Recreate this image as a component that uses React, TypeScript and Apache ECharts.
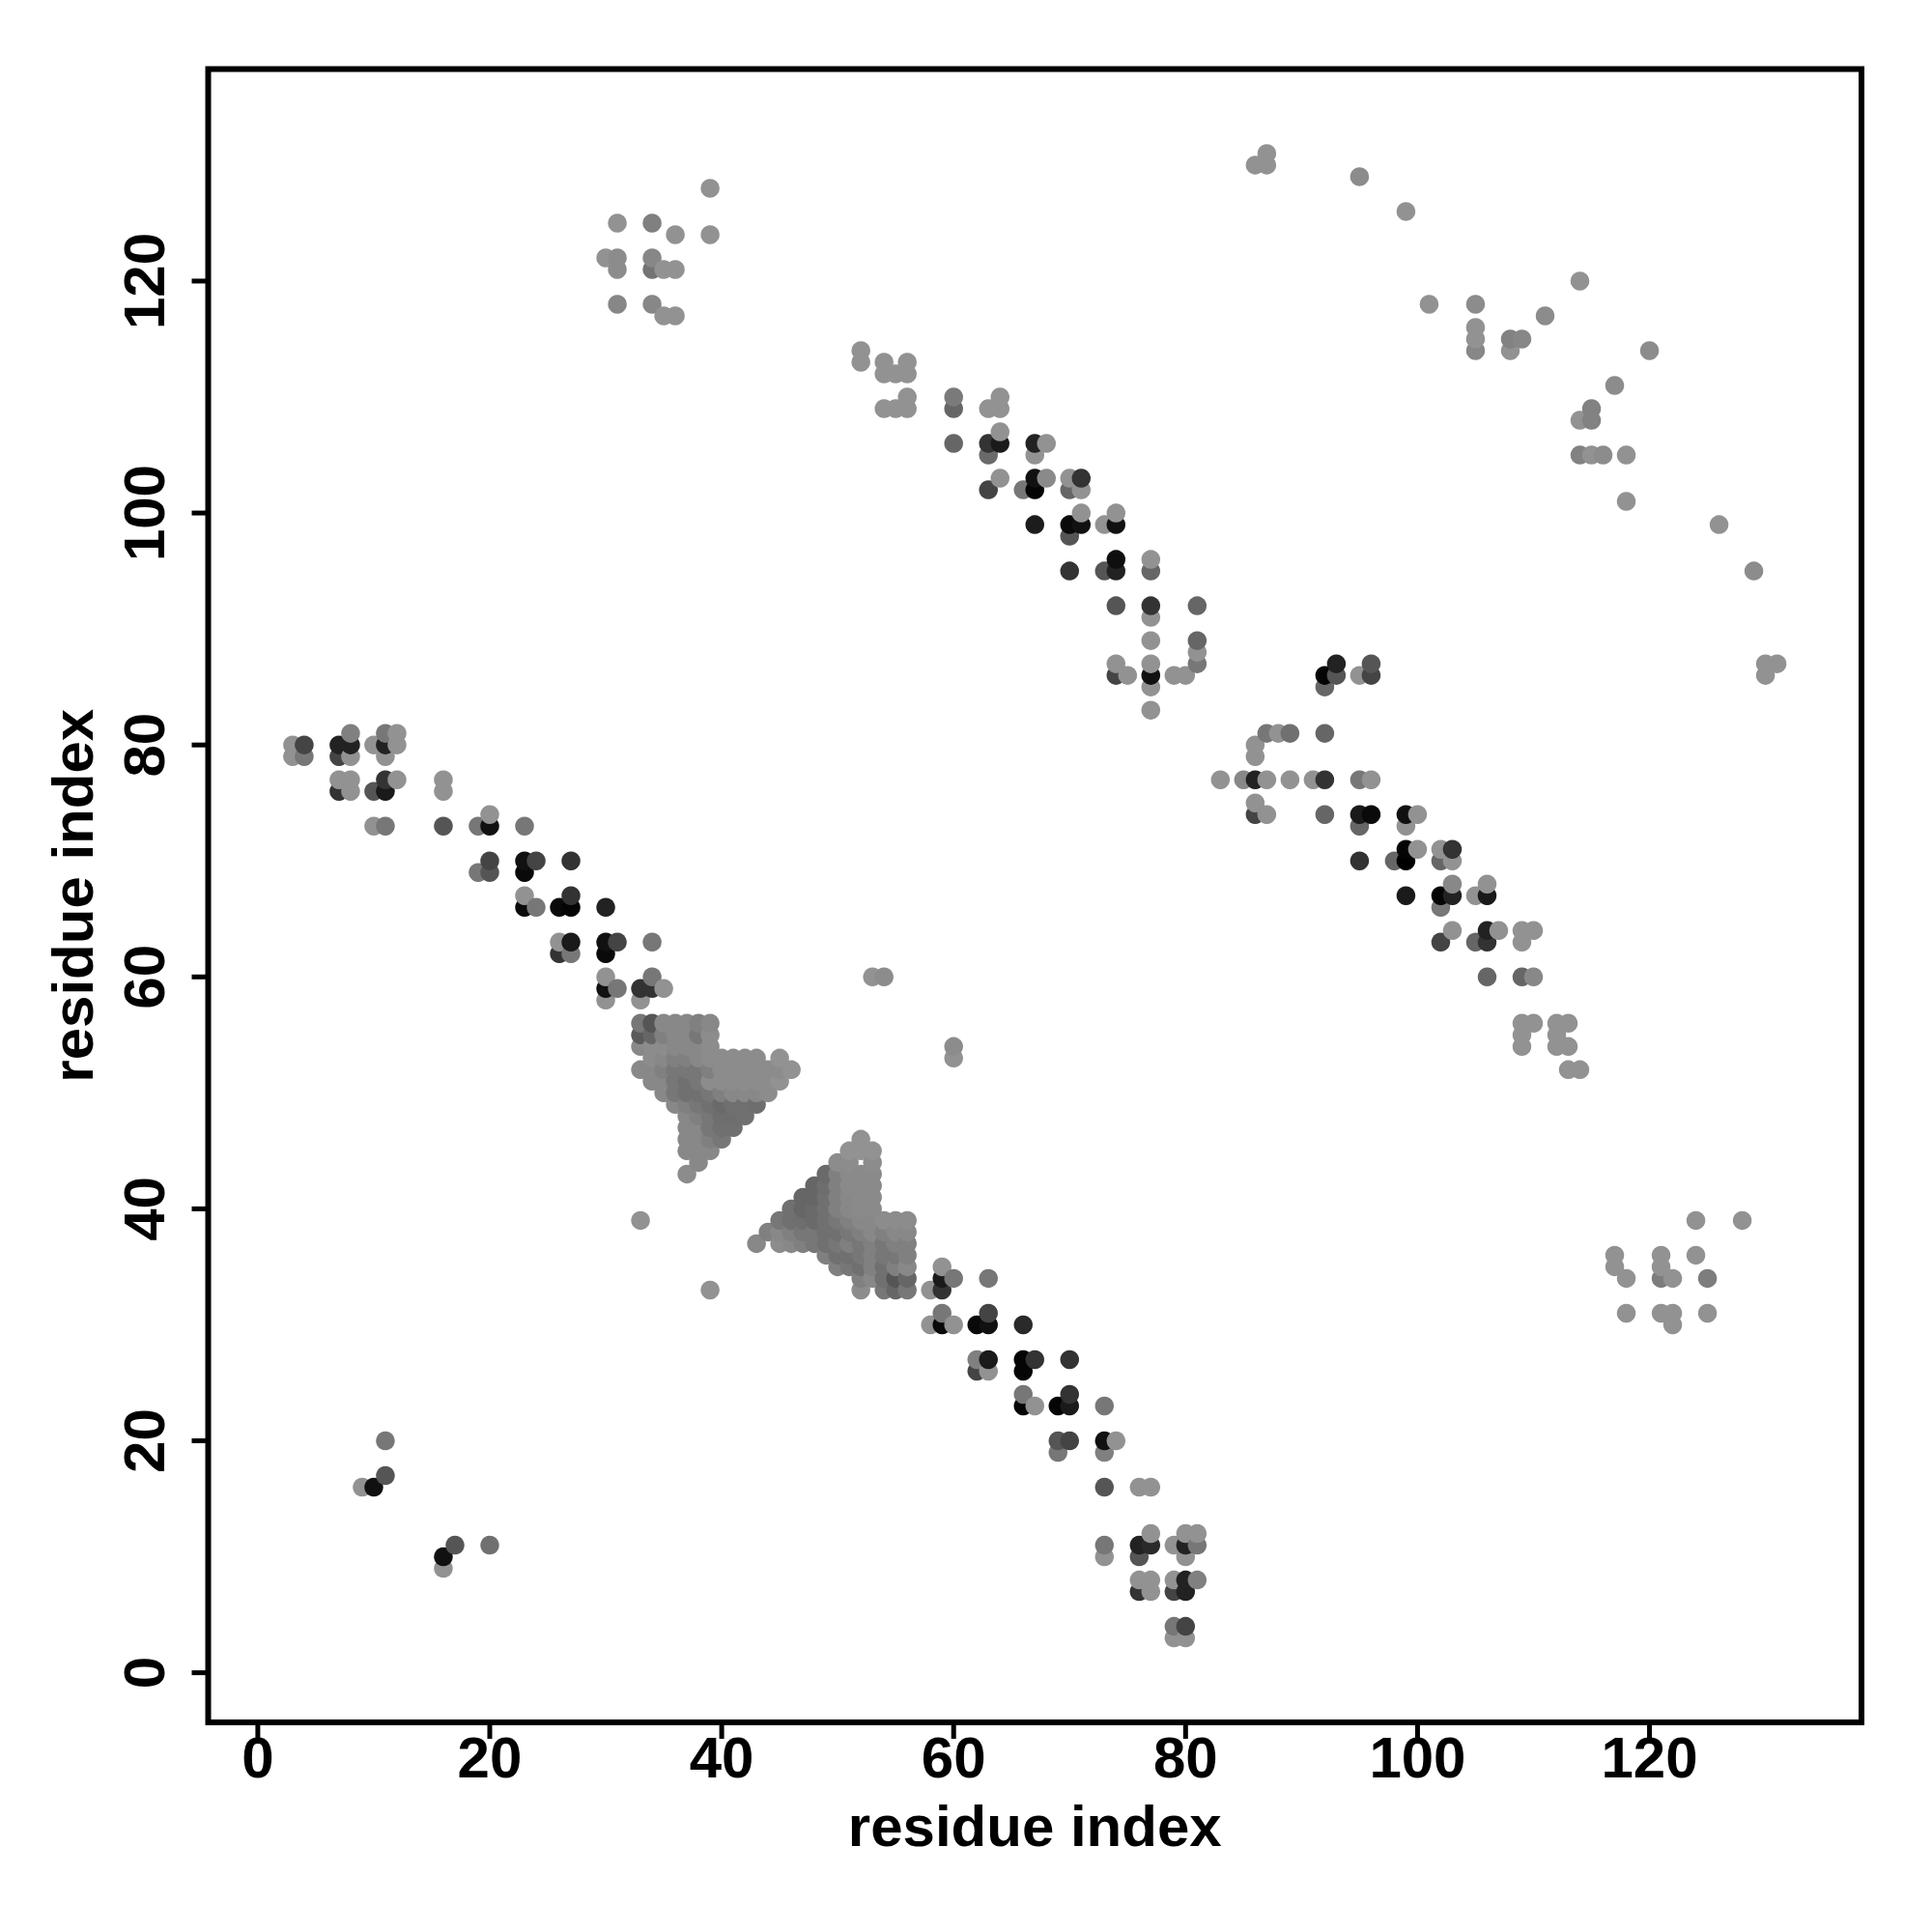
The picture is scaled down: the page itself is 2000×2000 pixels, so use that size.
import React, { useEffect, useRef } from "react";
import * as echarts from "echarts";

// axis setup
const tickValues = [0, 20, 40, 60, 80, 100, 120];
const axisMin = -4.28;
const axisMax = 138.28;
const axisTitle = "residue index";

// [x residue, y residue, gray level 0-255]
type P = [number, number, number];

const topLeftCluster: P[] = [
  [39, 128, 146], [31, 125, 146], [34, 125, 128], [36, 124, 146], [39, 124, 146],
  [30, 122, 146], [31, 122, 140], [31, 121, 140], [34, 122, 135], [34, 121, 115],
  [35, 121, 146], [36, 121, 146], [31, 118, 135], [34, 118, 135], [35, 117, 146], [36, 117, 146],
];

const topRightArc: P[] = [
  [86, 130, 146], [87, 131, 146], [87, 130, 146], [95, 129, 140], [99, 126, 146],
  [101, 118, 146], [105, 118, 140], [105, 116, 146], [105, 115, 146], [105, 114, 135],
  [108, 115, 130], [109, 115, 135], [108, 114, 146], [111, 117, 140], [114, 120, 146],
  [120, 114, 140], [117, 111, 140], [115, 109, 130], [114, 108, 146], [115, 108, 130],
  [114, 105, 130], [115, 105, 146], [116, 105, 140], [118, 105, 146], [118, 101, 146],
  [126, 99, 146], [129, 95, 140], [130, 87, 146], [131, 87, 146], [130, 86, 146],
];

const upperDiagonal: P[] = [
  [52, 114, 146], [52, 113, 146], [54, 113, 146], [54, 112, 146], [55, 112, 146], [56, 113, 146], [56, 112, 146],
  [54, 109, 146], [55, 109, 146], [56, 110, 146], [56, 109, 146],
  [60, 110, 122], [60, 109, 102], [60, 106, 102],
  [63, 109, 146], [64, 110, 146], [64, 109, 146], [64, 107, 146],
  [63, 106, 51], [64, 106, 26], [63, 105, 106],
  [67, 106, 34], [68, 106, 146], [67, 105, 146],
  [64, 103, 146], [63, 102, 68],
  [66, 102, 119], [67, 103, 17], [67, 102, 5], [68, 103, 138],
  [70, 103, 146], [71, 103, 51], [70, 102, 102], [71, 102, 146],
  [67, 99, 28],
  [70, 99, 10], [71, 99, 17], [71, 100, 146], [70, 98, 85],
  [73, 99, 146], [74, 99, 17], [74, 100, 146],
  [70, 95, 51],
  [73, 95, 85], [74, 96, 15], [74, 95, 34],
  [77, 96, 146], [77, 95, 102],
  [74, 92, 85], [77, 92, 51], [77, 91, 146], [81, 92, 102],
  [77, 89, 146],
  [81, 89, 102], [81, 88, 146], [81, 87, 119],
  [74, 87, 146], [74, 86, 68], [75, 86, 146],
  [77, 87, 146], [77, 86, 17], [77, 85, 146], [77, 83, 146],
  [79, 86, 146], [80, 86, 146],
];

const middleBand: P[] = [
  [93, 87, 34], [92, 86, 5], [93, 86, 85], [92, 85, 102],
  [96, 87, 85], [95, 86, 146], [96, 86, 68],
  [87, 81, 119], [88, 81, 146], [89, 81, 112], [92, 81, 102],
  [86, 80, 146], [86, 79, 146],
  [83, 77, 146], [85, 77, 136], [86, 77, 34], [87, 77, 146], [89, 77, 146], [91, 77, 146],
  [92, 77, 51], [95, 77, 119], [96, 77, 146],
  [86, 75, 146], [86, 74, 68], [87, 74, 146],
  [92, 74, 102],
  [95, 74, 26], [96, 74, 10], [95, 73, 102],
  [99, 74, 17], [100, 74, 146], [99, 73, 146],
  [95, 70, 51],
  [98, 70, 102], [99, 71, 5], [99, 70, 0], [100, 71, 146],
  [102, 71, 146], [103, 71, 51], [102, 70, 102], [103, 70, 146],
  [99, 67, 26],
  [102, 67, 5], [103, 67, 34], [103, 68, 136], [102, 66, 119],
  [105, 67, 146], [106, 67, 26], [106, 68, 146],
  [103, 64, 146], [102, 63, 68],
  [105, 63, 102], [106, 64, 34], [106, 63, 51], [107, 64, 146],
  [109, 64, 146], [110, 64, 146], [109, 63, 146],
  [106, 60, 102],
  [109, 60, 102], [110, 60, 136],
  [109, 56, 146], [110, 56, 146], [109, 55, 146], [109, 54, 146],
  [112, 56, 146], [113, 56, 146], [112, 55, 146], [112, 54, 146], [113, 54, 146],
  [113, 52, 146], [114, 52, 146],
];

const leftBand: P[] = [
  [3, 80, 146], [3, 79, 146], [4, 80, 68], [4, 79, 119],
  [8, 81, 128], [7, 80, 34], [8, 80, 34], [7, 79, 68], [8, 79, 146],
  [10, 80, 146], [11, 81, 119], [12, 81, 146], [11, 80, 34], [12, 80, 146], [11, 79, 146],
  [7, 77, 146], [8, 77, 146], [7, 76, 51], [8, 76, 146],
  [10, 76, 85], [11, 77, 51], [12, 77, 146], [11, 76, 26],
  [16, 77, 146], [16, 76, 146],
  [10, 73, 146], [11, 73, 119],
  [16, 73, 85],
  [19, 73, 119], [20, 74, 146], [20, 73, 17],
  [23, 73, 119],
  [20, 70, 68], [19, 69, 119], [20, 69, 85],
  [23, 70, 17], [24, 70, 68], [23, 69, 10],
  [27, 70, 51],
  [23, 67, 146], [24, 66, 119], [23, 66, 10],
  [26, 66, 10], [27, 66, 5], [27, 67, 51],
  [30, 66, 34],
  [26, 63, 146], [27, 63, 26], [26, 62, 51], [27, 62, 119],
  [30, 63, 17], [31, 63, 68], [30, 62, 10],
  [34, 63, 119],
  [30, 60, 146], [30, 59, 17], [31, 59, 119], [30, 58, 146],
  [34, 60, 119], [33, 59, 51], [34, 59, 51], [35, 59, 146], [33, 58, 146],
];

// dense sheets: [y residue, first x residue, gray levels along x (null = no contact)]
type Row = [number, number, (number | null)[]];
const sheetRowsA: Row[] = [
  [56, 33, [119, 85, 136, 136, 136, 128, 136]],
  [55, 33, [90, 102, 128, 136, 136, 119, 140]],
  [54, 33, [136, 140, 140, 136, 136, 136, 140]],
  [53, 34, [140, 136, 128, 128, 136, 140, 140, 140, 140, 140, null, 146]],
  [52, 33, [136, 136, 128, 119, 119, 119, 128, 140, 140, 140, 140, 140, 140, 146]],
  [51, 34, [136, 136, 119, 112, 119, 140, 140, 140, 140, 140, 140, 146]],
  [50, 35, [136, 119, 112, 112, 119, 128, 136, 136, 136, 140]],
  [49, 36, [136, 128, 119, 112, 106, 112, 112, 110]],
  [48, 37, [136, 128, 119, 110, 110, 112]],
  [47, 37, [136, 136, 119, 112, 112]],
  [46, 37, [136, 136, 128, 119]],
  [45, 37, [136, 136, 136]],
  [44, 38, [136]],
  [43, 37, [140]],
];

const sheetRowsB: Row[] = [
  [46, 52, [146]],
  [45, 51, [146, 146, 146]],
  [44, 50, [140, 140, null, 140]],
  [43, 49, [106, 128, 138, 138, 138]],
  [42, 48, [102, 110, 128, 138, 138, 138]],
  [41, 47, [102, 102, 112, 128, 136, 138, 138]],
  [40, 46, [112, 102, 106, 112, 128, 136, 138, 138]],
  [39, 45, [119, 112, 110, 106, 112, 119, 128, 136, 136, 140, 140, 140]],
  [38, 44, [128, 136, 128, 119, 119, 112, 112, 119, 128, 136, 128, 136, 136]],
  [37, 43, [136, null, 140, 136, 128, 119, 112, 119, 128, 119, 128, 119, 128, 128]],
  [36, 49, [128, 112, 112, 119, 128, 119, 119, 128]],
  [35, 50, [128, 119, 112, 128, 112, 128, 136]],
  [34, 52, [128, 136, 112, 85, 102]],
  [33, 52, [140, null, 119, 102, 119]],
];

const lowerBand: P[] = [
  [59, 35, 146], [59, 34, 26], [60, 34, 119], [58, 33, 146], [59, 33, 51],
  [63, 34, 119],
  [59, 31, 119], [58, 30, 146], [59, 30, 10], [60, 30, 146],
  [63, 31, 68], [62, 30, 10], [63, 30, 17],
  [66, 30, 42],
  [62, 27, 128], [63, 27, 26], [62, 26, 68], [63, 26, 146],
  [66, 27, 5], [67, 27, 51], [66, 26, 5],
  [70, 27, 51],
  [66, 24, 119], [66, 23, 5], [67, 23, 146],
  [69, 23, 5], [70, 23, 26], [70, 24, 51],
  [73, 23, 119],
  [69, 20, 85], [70, 20, 68], [69, 19, 119],
  [73, 20, 17], [74, 20, 146], [73, 19, 128],
  [73, 16, 85],
  [76, 16, 146], [77, 16, 146],
  [73, 11, 119], [73, 10, 146],
  [76, 11, 34], [77, 11, 42], [77, 12, 146], [76, 10, 85],
  [79, 11, 146], [80, 11, 34], [81, 11, 119], [80, 12, 146], [81, 12, 146], [80, 10, 146],
  [76, 8, 146], [77, 8, 146], [76, 7, 51], [77, 7, 146],
  [79, 8, 146], [80, 8, 34], [81, 8, 128], [79, 7, 68], [80, 7, 34],
  [79, 4, 119], [80, 4, 68], [79, 3, 146], [80, 3, 146],
];

const bottomLeft: P[] = [
  [11, 20, 119], [11, 17, 85], [9, 16, 146], [10, 16, 17],
  [17, 11, 85], [16, 10, 17], [16, 9, 146], [20, 11, 112],
];

const rightCluster: P[] = [
  [124, 39, 146], [128, 39, 146], [117, 36, 146], [117, 35, 146], [118, 34, 146],
  [121, 36, 146], [121, 35, 146], [121, 34, 125], [122, 34, 146], [124, 36, 146],
  [125, 34, 125], [118, 31, 146], [121, 31, 146], [122, 31, 146], [122, 30, 146], [125, 31, 146],
];

const isolated: P[] = [
  [53, 60, 146], [54, 60, 140], [60, 54, 140], [60, 53, 146], [33, 39, 146], [39, 33, 146],
];

function expandRows(rows: Row[]): P[] {
  const out: P[] = [];
  for (const [y, x0, grays] of rows) {
    grays.forEach((g, i) => {
      if (g !== null) out.push([x0 + i, y, g]);
    });
  }
  return out;
}

const allPoints: P[] = [
  ...topLeftCluster, ...topRightArc, ...upperDiagonal, ...middleBand, ...leftBand,
  ...expandRows(sheetRowsA), ...expandRows(sheetRowsB), ...lowerBand, ...bottomLeft,
  ...rightCluster, ...isolated,
].sort((a, b) => a[0] - b[0] || a[1] - b[1]);

const FONT = "'Liberation Sans', Arial, Helvetica, sans-serif";
const TICK_LEN = 17;

export default function App() {
  const ref = useRef<HTMLDivElement>(null);
  useEffect(() => {
    document.body.style.margin = "0";
    if (!ref.current) return;
    const chart = echarts.init(ref.current, undefined, { renderer: "svg" });
    const labelStyle = { fontSize: 60, fontWeight: "bold" as const, fontFamily: FONT, color: "#000" };
    const titleStyle = { fontSize: 60, fontWeight: "bold" as const, fontFamily: FONT, color: "#000" };
    const line = { show: false, onZero: false };
    chart.setOption({
      animation: false,
      backgroundColor: "#fff",
      grid: {
        left: 215.5, top: 71.5, width: 1711.5, height: 1711.5,
        show: true, borderColor: "#000", borderWidth: 6, backgroundColor: "transparent",
      },
      visualMap: {
        show: false, type: "continuous", dimension: 2, min: 0, max: 255, seriesIndex: 0,
        inRange: { color: ["#000000", "#ffffff"] },
      },
      xAxis: {
        type: "value", min: axisMin, max: axisMax, position: "bottom",
        splitLine: { show: false },
        axisLine: line,
        axisTick: { show: false },
        axisLabel: { ...labelStyle, margin: 6, customValues: tickValues },
        name: axisTitle, nameLocation: "middle", nameGap: 77,
        nameTextStyle: titleStyle,
      },
      yAxis: {
        type: "value", min: axisMin, max: axisMax, position: "left",
        splitLine: { show: false },
        axisLine: line,
        axisTick: { show: false },
        axisLabel: { ...labelStyle, margin: 36, rotate: 90, customValues: tickValues },
        name: axisTitle, nameLocation: "middle", nameGap: 110, nameRotate: 90,
        nameTextStyle: titleStyle,
      },
      series: [
        {
          type: "scatter",
          symbol: "circle",
          symbolSize: 19.5,
          data: allPoints,
          itemStyle: { opacity: 1 },
          emphasis: { disabled: true },
        },
      ],
    });

    // tick marks outside the frame, positioned through the axes' own scales
    const elements: any[] = [];
    const bottomY = chart.convertToPixel({ yAxisIndex: 0 }, axisMin) as number;
    const leftX = chart.convertToPixel({ xAxisIndex: 0 }, axisMin) as number;
    tickValues.forEach((v) => {
      const px = chart.convertToPixel({ xAxisIndex: 0 }, v) as number;
      elements.push({
        type: "rect", silent: true, z: 100,
        shape: { x: px - 2.5, y: bottomY, width: 5, height: TICK_LEN },
        style: { fill: "#000" },
      });
      const py = chart.convertToPixel({ yAxisIndex: 0 }, v) as number;
      elements.push({
        type: "rect", silent: true, z: 100,
        shape: { x: leftX - TICK_LEN, y: py - 2.5, width: TICK_LEN, height: 5 },
        style: { fill: "#000" },
      });
    });
    chart.setOption({ graphic: elements });

    return () => chart.dispose();
  }, []);
  return <div ref={ref} style={{ width: 2000, height: 2000 }} />;
}
